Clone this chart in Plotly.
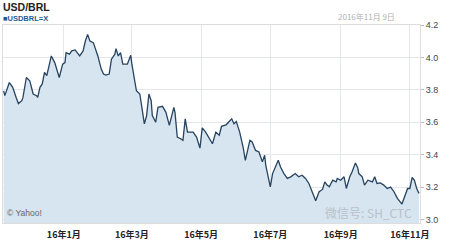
import plotly.graph_objects as go

dates = [
    "2015-11-09", "2015-11-10", "2015-11-14", "2015-11-17", "2015-11-20", "2015-11-22",
    "2015-11-25", "2015-11-26", "2015-11-29", "2015-12-02", "2015-12-05", "2015-12-08",
    "2015-12-09", "2015-12-11", "2015-12-13", "2015-12-15", "2015-12-17", "2015-12-21",
    "2015-12-24", "2015-12-28", "2015-12-31", "2016-01-02", "2016-01-03", "2016-01-06",
    "2016-01-08", "2016-01-11", "2016-01-15", "2016-01-18", "2016-01-20", "2016-01-22",
    "2016-01-24", "2016-01-27", "2016-01-28", "2016-01-31", "2016-02-03", "2016-02-05",
    "2016-02-07", "2016-02-10", "2016-02-12", "2016-02-15", "2016-02-16", "2016-02-18",
    "2016-02-20", "2016-02-22", "2016-02-26", "2016-02-29", "2016-03-01", "2016-03-03",
    "2016-03-05", "2016-03-08", "2016-03-10", "2016-03-12", "2016-03-14", "2016-03-16",
    "2016-03-18", "2016-03-19", "2016-03-22", "2016-03-24", "2016-03-28", "2016-03-31",
    "2016-04-03", "2016-04-05", "2016-04-07", "2016-04-08", "2016-04-10", "2016-04-13",
    "2016-04-15", "2016-04-17", "2016-04-19", "2016-04-24", "2016-04-27", "2016-04-30",
    "2016-05-02", "2016-05-05", "2016-05-08", "2016-05-11", "2016-05-14", "2016-05-17",
    "2016-05-19", "2016-05-23", "2016-05-28", "2016-05-30", "2016-06-01", "2016-06-04",
    "2016-06-07", "2016-06-09", "2016-06-13", "2016-06-15", "2016-06-18", "2016-06-21",
    "2016-06-24", "2016-06-26", "2016-06-27", "2016-07-01", "2016-07-03", "2016-07-08",
    "2016-07-10", "2016-07-13", "2016-07-16", "2016-07-19", "2016-07-23", "2016-07-26",
    "2016-07-29", "2016-08-01", "2016-08-04", "2016-08-07", "2016-08-10", "2016-08-13",
    "2016-08-16", "2016-08-18", "2016-08-20", "2016-08-22", "2016-08-25", "2016-08-28",
    "2016-08-29", "2016-09-01", "2016-09-04", "2016-09-06", "2016-09-09", "2016-09-11",
    "2016-09-14", "2016-09-16", "2016-09-17", "2016-09-20", "2016-09-22", "2016-09-25",
    "2016-09-29", "2016-10-01", "2016-10-03", "2016-10-06", "2016-10-09", "2016-10-12",
    "2016-10-15", "2016-10-18", "2016-10-21", "2016-10-25", "2016-10-27", "2016-10-30",
    "2016-11-01", "2016-11-03", "2016-11-05", "2016-11-07", "2016-11-09",
]

usdbrl = [
    3.794, 3.764, 3.845, 3.815, 3.753, 3.715,
    3.733, 3.753, 3.876, 3.856, 3.774, 3.764,
    3.753, 3.815, 3.836, 3.907, 3.887, 4.009,
    3.968, 3.876, 3.958, 3.968, 4.029, 4.020,
    4.040, 4.046, 4.009, 4.040, 4.101, 4.142,
    4.101, 4.091, 4.071, 4.009, 3.928, 3.897,
    3.891, 3.897, 3.989, 4.020, 4.054, 4.009,
    4.029, 3.958, 3.958, 4.013, 3.958, 3.866,
    3.794, 3.774, 3.682, 3.590, 3.641, 3.774,
    3.733, 3.641, 3.600, 3.692, 3.698, 3.661,
    3.580, 3.641, 3.692, 3.661, 3.508, 3.498,
    3.488, 3.621, 3.539, 3.539, 3.508, 3.440,
    3.565, 3.539, 3.498, 3.467, 3.539, 3.520,
    3.575, 3.584, 3.621, 3.590, 3.605, 3.539,
    3.447, 3.365, 3.488, 3.478, 3.426, 3.416,
    3.355, 3.396, 3.334, 3.201, 3.283, 3.365,
    3.324, 3.283, 3.253, 3.263, 3.283, 3.263,
    3.273, 3.253, 3.222, 3.171, 3.115, 3.171,
    3.185, 3.232, 3.212, 3.201, 3.242, 3.232,
    3.253, 3.242, 3.263, 3.191, 3.263, 3.293,
    3.348, 3.320, 3.283, 3.263, 3.212, 3.242,
    3.232, 3.263, 3.222, 3.225, 3.212, 3.191,
    3.200, 3.171, 3.130, 3.095, 3.130, 3.191,
    3.191, 3.259, 3.242, 3.191, 3.161,
]

y_ticks = [3.0, 3.2, 3.4, 3.6, 3.8, 4.0, 4.2]
y_tick_labels = ["3.0", "3.2", "3.4", "3.6", "3.8", "4.0", "4.2"]
x_ticks = ["2016-01-01", "2016-03-01", "2016-05-01", "2016-07-01", "2016-09-01", "2016-11-01"]
x_tick_labels = ["16年1月", "16年3月", "16年5月", "16年7月", "16年9月", "16年11月"]

fig = go.Figure()
fig.add_trace(go.Scatter(
    x=dates, y=usdbrl, mode="lines",
    line=dict(color="#26435f", width=1.3),
    fill="tozeroy", fillcolor="#d7e5f1",
    hoverinfo="skip", showlegend=False,
))

fig.update_layout(
    width=450, height=243,
    margin=dict(l=3, r=30, t=25, b=20),
    paper_bgcolor="white", plot_bgcolor="white",
    font=dict(family="Liberation Sans, Arial, sans-serif", size=9, color="#333"),
    xaxis=dict(
        range=["2015-11-08 10:00", "2016-11-09 22:00"],
        tickmode="array", tickvals=x_ticks,
        ticktext=["<b>%s</b>" % t for t in x_tick_labels],
        showgrid=True, gridcolor="#e4e8ec", gridwidth=1,
        showline=True, linecolor="#dddddd", mirror=True,
        ticks="", ticklabelstandoff=3,
        tickfont=dict(family="Noto Sans CJK SC", size=9, color="#222"),
        zeroline=False, layer="above traces",
    ),
    yaxis=dict(
        range=[2.978, 4.2], side="right",
        tickmode="array", tickvals=y_ticks, ticktext=y_tick_labels,
        showgrid=True, gridcolor="#e4e8ec", gridwidth=1,
        showline=True, linecolor="#dddddd", mirror=True,
        ticks="outside", ticklen=3, tickcolor="#bbbbbb",
        tickfont=dict(size=9, color="#444"),
        zeroline=False, layer="above traces",
    ),
)

fig.add_annotation(text="<b>USD/BRL</b>", xref="paper", yref="paper",
                   x=-0.003, y=1.0929, xanchor="left", yanchor="middle", showarrow=False,
                   borderpad=0,
                   font=dict(family="Liberation Sans, Arial", size=10.5, color="#222"))
fig.add_annotation(text="<b>■USDBRL=X</b>", xref="paper", yref="paper",
                   x=-0.003, y=1.0328, xanchor="left", yanchor="middle", showarrow=False,
                   borderpad=0,
                   font=dict(family="Liberation Sans, Arial", size=7.5, color="#1f5b92"))
fig.add_annotation(text="2016年11月 9日", xref="paper", yref="paper",
                   x=0.945, y=1.045, xanchor="right", yanchor="middle", showarrow=False,
                   font=dict(family="Noto Sans CJK SC", size=8, color="#b0b0b0"))
fig.add_annotation(text="© Yahoo!", xref="paper", yref="paper",
                   x=0.004, y=0.05, xanchor="left", yanchor="middle", showarrow=False,
                   font=dict(family="Liberation Sans, Arial", size=8.5, color="#666"))
fig.add_annotation(text="微信号: SH_CTC", xref="paper", yref="paper",
                   x=0.985, y=0.055, xanchor="right", yanchor="middle", showarrow=False,
                   font=dict(family="Noto Sans CJK SC", size=12, color="rgba(160,160,160,0.55)"))

fig.write_html("out.html")
